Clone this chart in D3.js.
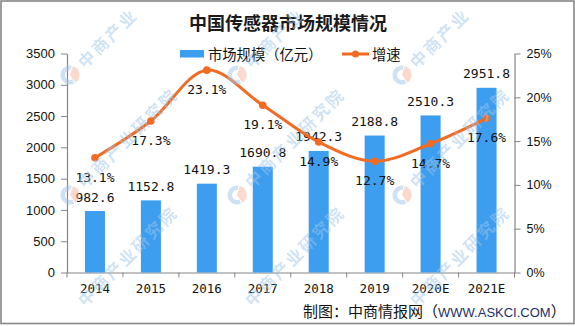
<!DOCTYPE html>
<html>
<head>
<meta charset="utf-8">
<script src="https://cdn.jsdelivr.net/npm/d3@7"></script>
<style>
  html, body { margin: 0; padding: 0; background: #fff; }
  svg { display: block; }
</style>
</head>
<body>
<svg id="chart" width="575" height="326"></svg>
<script>
// Chart data
const years = ["2014", "2015", "2016", "2017", "2018", "2019", "2020E", "2021E"];
const marketSize = [982.6, 1152.8, 1419.3, 1690.8, 1942.3, 2188.8, 2510.3, 2951.8]; // 亿元
const growthRate = [13.1, 17.3, 23.1, 19.1, 14.9, 12.7, 14.7, 17.6];                 // %
const leftTicks = [0, 500, 1000, 1500, 2000, 2500, 3000, 3500];
const rightTicks = [0, 5, 10, 15, 20, 25];

const titleText = "中国传感器市场规模情况";
const barLegend = "市场规模（亿元）";
const lineLegend = "增速";
const sourcePrefix = "制图：中商情报网（";
const sourceSite = "WWW.ASKCI.COM";
const sourceSuffix = "）";
const brandMark = "中商产业研究院";

const BAR = "#3d9ef0";
const LINE = "#f26b22";
const AXIS = "#868686";
const MONO = "'DejaVu Sans Mono', monospace";
const CJK = "'Noto Sans CJK SC', sans-serif";
const SANS = "'Liberation Sans', Arial, sans-serif";
const W = 575, H = 326;

const svg = d3.select("#chart");

// frame
svg.append("rect")
  .attr("x", 1).attr("y", 1).attr("width", 573).attr("height", 322.5)
  .attr("fill", "#fff").attr("stroke", AXIS).attr("stroke-width", 1.6);

const plot = { left: 67, right: 514.5, top: 53.5, bottom: 272.5 };

const x = d3.scaleBand().domain(years)
  .range([plot.left, plot.right])
  .paddingInner(0.642).paddingOuter(0.321);
const yL = d3.scaleLinear().domain([0, 3500]).range([plot.bottom, plot.top]);
const yR = d3.scaleLinear().domain([0, 25]).range([plot.bottom, plot.top]);
const cx = d => x(d) + x.bandwidth() / 2;

// title
svg.append("text")
  .attr("x", 288).attr("y", 29.5)
  .attr("text-anchor", "middle")
  .attr("font-family", CJK).attr("font-weight", 700).attr("font-size", 18)
  .attr("fill", "#1a1a1a")
  .text(titleText);

// legend
const lg = svg.append("g");
lg.append("rect").attr("x", 180).attr("y", 50).attr("width", 24).attr("height", 7.5).attr("fill", BAR);
lg.append("text").attr("x", 208).attr("y", 60)
  .attr("font-family", CJK).attr("font-size", 14.3).attr("fill", "#111").text(barLegend);
lg.append("line").attr("x1", 342).attr("x2", 369).attr("y1", 54).attr("y2", 54)
  .attr("stroke", LINE).attr("stroke-width", 3);
lg.append("circle").attr("cx", 355.5).attr("cy", 54).attr("r", 3.6).attr("fill", LINE);
lg.append("text").attr("x", 372).attr("y", 60)
  .attr("font-family", CJK).attr("font-size", 14.3).attr("fill", "#111").text(lineLegend);

// left axis
const axL = svg.append("g").attr("transform", `translate(${plot.left},0)`)
  .call(d3.axisLeft(yL).tickValues(leftTicks).tickSize(6).tickSizeOuter(0).tickPadding(6)
    .tickFormat(d => String(d)));
axL.selectAll("text").attr("font-family", SANS).attr("font-size", 13).attr("fill", "#111");

// right axis
const axR = svg.append("g").attr("transform", `translate(${plot.right},0)`)
  .call(d3.axisRight(yR).tickValues(rightTicks).tickSize(6).tickSizeOuter(0).tickPadding(6)
    .tickFormat(d => d + "%"));
axR.selectAll("text").attr("font-family", SANS).attr("font-size", 12.5).attr("fill", "#111");

// bottom axis: labels centred on bands, ticks on band boundaries
const axB = svg.append("g").attr("transform", `translate(0,${plot.bottom})`)
  .call(d3.axisBottom(x).tickSize(0).tickSizeOuter(0).tickPadding(12));
axB.selectAll("text").attr("font-family", MONO).attr("font-size", 12.5).attr("fill", "#111");
const bounds = years.map(d => cx(d) - x.step() / 2).concat([cx(years[years.length - 1]) + x.step() / 2]);
axB.selectAll("line.bound").data(bounds).join("line")
  .attr("class", "bound")
  .attr("x1", d => d).attr("x2", d => d).attr("y1", 0).attr("y2", 5)
  .attr("stroke", AXIS);

[axL, axR, axB].forEach(g => {
  g.select(".domain").attr("stroke", AXIS).attr("stroke-width", 1.2);
  g.selectAll(".tick line").attr("stroke", AXIS);
});

// bars
svg.append("g").selectAll("rect").data(years).join("rect")
  .attr("x", d => x(d))
  .attr("width", x.bandwidth())
  .attr("y", (d, i) => yL(marketSize[i]))
  .attr("height", (d, i) => yL(0) - yL(marketSize[i]))
  .attr("fill", BAR);

// bar value labels
svg.append("g").selectAll("text").data(years).join("text")
  .attr("x", d => cx(d))
  .attr("y", (d, i) => yL(marketSize[i]) - 9.5)
  .attr("text-anchor", "middle")
  .attr("font-family", MONO).attr("font-size", 13).attr("fill", "#111")
  .text((d, i) => marketSize[i].toFixed(1));

// growth line
const line = d3.line()
  .x(d => cx(d[0]))
  .y(d => yR(d[1]))
  .curve(d3.curveCatmullRom.alpha(0.5));
const pts = years.map((d, i) => [d, growthRate[i]]);
svg.append("path").datum(pts)
  .attr("d", line)
  .attr("fill", "none").attr("stroke", LINE).attr("stroke-width", 3)
  .attr("stroke-linejoin", "round").attr("stroke-linecap", "round");
svg.append("g").selectAll("circle").data(pts).join("circle")
  .attr("cx", d => cx(d[0])).attr("cy", d => yR(d[1])).attr("r", 3.8)
  .attr("fill", LINE);

// growth labels
svg.append("g").selectAll("text").data(pts).join("text")
  .attr("x", d => cx(d[0]))
  .attr("y", d => yR(d[1]) + 24)
  .attr("text-anchor", "middle")
  .attr("font-family", MONO).attr("font-size", 13).attr("fill", "#111")
  .text(d => d[1].toFixed(1) + "%");

// source line
const src = svg.append("text").attr("x", 303).attr("y", 317)
  .attr("font-family", CJK).attr("font-size", 15).attr("fill", "#111");
src.append("tspan").text(sourcePrefix);
src.append("tspan").attr("font-family", SANS).attr("font-size", 13).attr("fill", "#1b2f6b").text(sourceSite);
src.append("tspan").text(sourceSuffix);

// faint brand watermark tiled over the chart; each glyph is placed on its own
// along a 45° diagonal and only glyphs lying fully inside the frame are drawn
const wm = svg.append("g").attr("pointer-events", "none").attr("opacity", 0.5);
const cols = [-96, 70, 237, 402, 567];
const rows = [75, 195, 313];
const FS = 16.5, STEP = 19, k = Math.SQRT1_2;
const toPage = (ox, oy, u, v) => [ox + (u + v) * k, oy + (v - u) * k]; // rotate(-45)
const arc = d3.arc().outerRadius(9.5);
rows.forEach(ry => cols.forEach(rx => {
  if (rx - 10 > 1 && rx + 10 < W - 1 && ry + 10 < H - 3) {
    const g = wm.append("g").attr("transform", `translate(${rx},${ry})`);
    g.append("path").attr("d", arc.innerRadius(5)({ startAngle: Math.PI * 0.85, endAngle: Math.PI * 2.05 })).attr("fill", "#9fc5e8");
    g.append("path").attr("d", arc.innerRadius(0)({ startAngle: Math.PI * 0.1, endAngle: Math.PI * 0.8 })).attr("fill", "#f6b39a");
  }
  const ox = rx + 9, oy = ry - 9;
  Array.from(brandMark).forEach((ch, i) => {
    const u0 = 2 + i * STEP;
    const corners = [[u0, -FS], [u0 + FS, -FS], [u0, 3], [u0 + FS, 3]]
      .map(([u, v]) => toPage(ox, oy, u, v + 7));
    const inside = corners.every(([px, py]) => px > 2 && px < W - 2 && py > 2 && py < H - 3);
    if (!inside) return;
    const [px, py] = toPage(ox, oy, u0, 7);
    wm.append("text")
      .attr("transform", `translate(${px.toFixed(2)},${py.toFixed(2)}) rotate(-45)`)
      .attr("font-family", CJK).attr("font-weight", 700).attr("font-size", FS)
      .attr("fill", "#9fc5e8")
      .text(ch);
  });
}));
</script>
</body>
</html>
